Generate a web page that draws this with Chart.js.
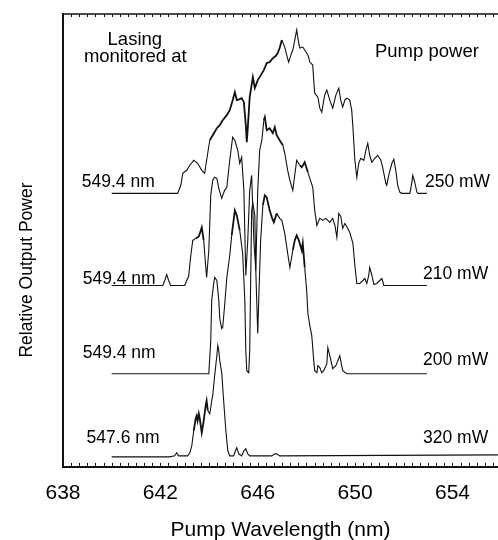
<!DOCTYPE html>
<html><head><meta charset="utf-8">
<script src="https://cdn.jsdelivr.net/npm/chart.js@4/dist/chart.umd.min.js"></script>
<style>html,body{margin:0;padding:0;background:#fff;overflow:hidden}canvas{display:block}</style>
</head><body>
<canvas id="c" width="498" height="540"></canvas>
<script>
// ---- data (pump wavelength in nm, relative output power in arbitrary units) ----
const xTicks = [638, 642, 646, 650, 654];
const pumpPowers = ['250 mW', '210 mW', '200 mW', '320 mW'];
const monitorLabels = ['549.4 nm', '549.4 nm', '549.4 nm', '547.6 nm'];

const wl250 = [640.00,642.71,642.84,642.92,643.08,643.21,643.37,643.53,643.70,643.82,643.90,644.03,644.15,644.32,644.44,644.56,644.73,644.85,644.97,645.06,645.14,645.26,645.34,645.43,645.51,645.55,645.59,645.67,645.80,645.88,646.00,646.08,646.25,646.37,646.49,646.62,646.74,646.82,646.90,646.99,647.11,647.19,647.27,647.36,647.44,647.52,647.60,647.69,647.73,647.85,647.93,648.06,648.14,648.26,648.30,648.34,648.47,648.55,648.63,648.75,648.84,648.96,649.08,649.21,649.33,649.41,649.49,649.58,649.66,649.78,649.86,649.91,649.99,650.07,650.15,650.23,650.36,650.44,650.52,650.60,650.69,650.81,650.93,651.06,651.14,651.26,651.30,651.38,651.51,651.59,651.67,651.75,651.84,651.92,652.25,652.33,652.37,652.45,652.54,652.58,652.95];
const p250 = [68.25,68.25,70.25,73.25,74,75.25,76.5,75.75,74,73.25,76.5,81.5,82.75,84.5,85.25,86.5,87.75,89,91.5,93.5,91.5,91.75,92,91,85.25,81,84.5,92.25,97.25,94.5,96.5,97.25,99,100.75,101,102,102.5,103.25,104.5,106.5,104.75,102.75,101,102.75,104,106.5,109,105.5,104.5,104.75,104,102.75,101,100.25,96.5,93.25,92.25,89.5,88.5,92.75,94,91.5,89.5,92.75,94.5,91.5,89.75,91.5,92,91.5,89,84.75,76.5,72.25,75.75,77,76.5,79,80.75,77.75,76,77,77.75,76.5,74.5,70.75,70.25,72.75,75.75,76.75,74,70.25,68.5,68.25,68.25,71,72.75,71,68.5,68.25,68.25];

const wl210 = [640.00,642.10,642.18,642.26,642.34,642.42,643.00,643.08,643.16,643.25,643.33,643.45,643.58,643.66,643.70,643.78,643.86,643.90,643.99,644.07,644.15,644.23,644.32,644.40,644.52,644.64,644.73,644.85,644.97,645.06,645.18,645.26,645.34,645.43,645.51,645.59,645.67,645.75,645.84,645.92,646.00,646.08,646.17,646.25,646.29,646.37,646.49,646.62,646.70,646.78,646.90,647.03,647.11,647.23,647.32,647.44,647.52,647.60,647.73,647.81,647.93,648.06,648.14,648.26,648.34,648.43,648.55,648.67,648.80,648.96,649.08,649.17,649.25,649.33,649.41,649.49,649.58,649.70,649.78,649.91,649.99,650.07,650.19,650.32,650.40,650.48,650.56,650.60,650.69,650.77,650.89,651.01,651.10,651.18,652.95];
const p210 = [45.25,45.25,46.5,48,46.5,45.25,45.25,46.5,47.5,52.75,56.5,57,57.5,59,59.75,56.5,50.25,47.25,54,67.75,71.5,72.25,72,69.5,67,69,69.75,76.5,82.25,81.5,79,75.75,77.25,69,47.75,56.5,69,72.75,56.5,49,69,79,81.5,86.5,87.25,84,84.5,83.25,84.75,82.75,81.5,80.25,78.25,74,71.5,69,72.75,76.5,75.25,74.75,76,73.5,72,69.75,64,60.25,62,61.5,62,61,62,60.25,57.25,63.25,62.5,59.5,60.75,59.5,58.5,55.75,50.25,45.75,45.75,46.5,47,45.75,47.75,49.75,47.75,45.5,45.75,46.5,47,45.25,45.25];

const wl200 = [640.00,643.99,644.07,644.11,644.19,644.23,644.32,644.40,644.44,644.52,644.56,644.64,644.73,644.85,644.93,645.06,645.14,645.26,645.38,645.47,645.51,645.55,645.63,645.67,645.71,645.75,645.80,645.88,645.92,646.00,646.04,646.12,646.21,646.29,646.37,646.49,646.58,646.66,646.78,646.90,646.99,647.11,647.23,647.32,647.44,647.52,647.60,647.69,647.81,647.85,647.93,648.01,648.06,648.14,648.22,648.30,648.34,648.43,648.47,648.55,648.63,648.71,648.84,648.88,648.96,649.08,649.21,649.37,649.49,649.66,652.95];
const p200 = [23.25,23.25,31.5,41.5,45.75,47.25,46.5,41.5,37,34.5,34.75,40.25,47.25,52.75,57.75,64,62.75,59,53.25,41.5,29,24,23.5,29,46.5,64,65.75,62.75,49,33.25,41.5,56.5,65.25,67.75,67.25,64,62.25,61,63.25,62,61.5,58.25,53.25,49.75,54,56.5,57.75,56.5,54,55.75,49.75,44,38.25,35.25,32.75,26.5,24,23.5,25.25,24.75,23.5,24,25.75,29.75,27.75,24.5,25.25,27.75,24,23.25,23.25];

const wl320 = [640.00,642.38,642.59,642.67,642.75,643.12,643.21,643.29,643.37,643.45,643.49,643.53,643.58,643.62,643.70,643.78,643.86,643.90,643.95,644.03,644.11,644.15,644.23,644.32,644.36,644.40,644.44,644.52,644.60,644.69,644.77,644.85,645.01,645.10,645.14,645.22,645.34,645.43,645.51,645.59,645.67,646.58,646.70,646.78,646.90,655.87];
const p320 = [2.5,2.5,2.75,3.5,2.75,2.75,3.5,5.25,9,12,12.75,11.5,13.25,12,8.5,11.5,15.25,16.5,14,13.25,16.5,17.75,22.75,27.75,30.25,29,26.5,23.5,16.5,9,4,2.75,2.75,4.25,4.75,3.25,2.75,4,4.5,3.25,2.75,2.75,3.25,3.25,2.75,3];

// ---- styling ----
const FONT = '"Liberation Sans", Arial, Helvetica, sans-serif';
const INK = '#111';
const noisyBands = [
  [[644.0, 646.9]],
  [[643.4, 643.7], [646.25, 646.95], [647.7, 648.0]],
  [[644.9, 645.2], [646.2, 646.7], [647.4, 647.9]],
  [[643.3, 643.9]]
];

function pts(xs, ys) { return xs.map((x, i) => ({ x: x, y: ys[i] })); }
function makeSet(label, xs, ys, bands) {
  return {
    label: label, data: pts(xs, ys), showLine: true, fill: false,
    borderColor: INK, borderWidth: 1.1, pointRadius: 0, tension: 0,
    segment: {
      borderWidth: c => {
        const v = c.p0.parsed.x;
        return bands.some(b => v >= b[0] && v <= b[1]) ? 1.8 : 1.1;
      }
    }
  };
}

const decor = {
  id: 'decor',
  afterDraw(chart) {
    const { ctx, chartArea: a, scales: { x, y } } = chart;
    ctx.save();
    ctx.strokeStyle = INK;
    ctx.lineWidth = 1.5;
    ctx.beginPath(); ctx.moveTo(a.left, a.top); ctx.lineTo(a.right, a.top); ctx.stroke();
    ctx.lineWidth = 1;
    for (let k = 0; ; k++) {
      const v = x.min + k / 3;
      if (v > x.max) break;
      const px = Math.round(x.getPixelForValue(v)) + 0.5;
      ctx.beginPath();
      ctx.moveTo(px, a.bottom); ctx.lineTo(px, a.bottom - 4);
      ctx.moveTo(px, a.top); ctx.lineTo(px, a.top + 3);
      ctx.stroke();
    }
    ctx.fillStyle = '#000';
    ctx.textBaseline = 'alphabetic';
    ctx.font = '18.5px ' + FONT;
    ctx.textAlign = 'center';
    ctx.fillText('Lasing', x.getPixelForValue(640.95), y.getPixelForValue(105.25));
    ctx.fillText('monitored at', x.getPixelForValue(640.97), y.getPixelForValue(101));
    ctx.fillText('Pump power', x.getPixelForValue(652.95), y.getPixelForValue(102.25));
    ctx.font = '17.5px ' + FONT;
    ctx.textAlign = 'left';
    const leftPos = [[638.77, 69.75], [638.81, 45.75], [638.81, 27.25], [638.97, 6]];
    const rightPos = [[652.87, 69.75], [652.79, 46.75], [652.79, 25.5], [652.79, 6]];
    monitorLabels.forEach((t, i) => ctx.fillText(t, x.getPixelForValue(leftPos[i][0]), y.getPixelForValue(leftPos[i][1])));
    pumpPowers.forEach((t, i) => ctx.fillText(t, x.getPixelForValue(rightPos[i][0]), y.getPixelForValue(rightPos[i][1])));
    ctx.translate(27, 270);
    ctx.rotate(-Math.PI / 2);
    ctx.textAlign = 'center';
    ctx.textBaseline = 'middle';
    ctx.font = '17.5px ' + FONT;
    ctx.fillText('Relative Output Power', 0, 0);
    ctx.restore();
  }
};

new Chart(document.getElementById('c'), {
  type: 'scatter',
  data: {
    datasets: [
      makeSet('250 mW', wl250, p250, noisyBands[0]),
      makeSet('210 mW', wl210, p210, noisyBands[1]),
      makeSet('200 mW', wl200, p200, noisyBands[2]),
      makeSet('320 mW', wl320, p320, noisyBands[3])
    ]
  },
  options: {
    responsive: false, animation: false, devicePixelRatio: 1,
    layout: { padding: { left: 63, top: 14, right: 0, bottom: 0 } },
    plugins: { legend: { display: false }, tooltip: { enabled: false } },
    scales: {
      x: {
        type: 'linear', min: 638, max: 655.87,
        afterBuildTicks: s => { s.ticks = xTicks.map(v => ({ value: v })); },
        ticks: { font: { family: FONT, size: 21 }, color: '#000', padding: 14, maxRotation: 0, autoSkip: false },
        grid: { display: false, drawTicks: false },
        border: { display: true, color: INK, width: 2 },
        title: { display: true, text: 'Pump Wavelength (nm)', font: { family: FONT, size: 21, lineHeight: 0.95 }, color: '#000', padding: { top: 0, bottom: 0 } }
      },
      y: {
        min: 0, max: 113,
        ticks: { display: false },
        grid: { display: false, drawTicks: false },
        border: { display: true, color: INK, width: 2 }
      }
    }
  },
  plugins: [decor]
});
</script>
</body></html>
